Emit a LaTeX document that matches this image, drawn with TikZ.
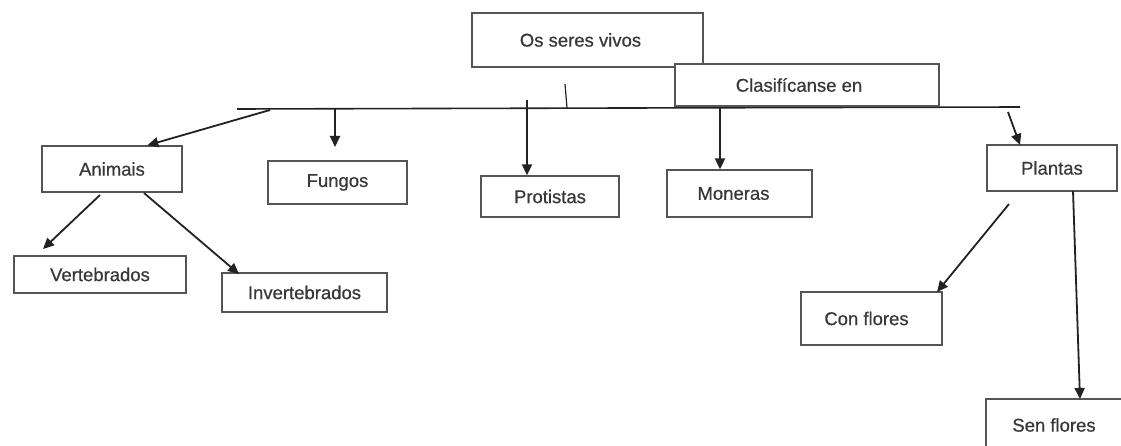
\documentclass[tikz,border=0pt]{standalone}
\usepackage{fontspec}
\setmainfont{Liberation Sans}
\newfontfamily\medfont[FakeBold=0.5]{Liberation Sans}
\usetikzlibrary{arrows.meta,calc}
\definecolor{ink}{HTML}{222222}
\definecolor{boxline}{HTML}{555555}
\definecolor{txt}{HTML}{383838}
\begin{document}
\begin{tikzpicture}[x=1pt,y=-1pt,
  box/.style={draw=boxline,line width=1.3pt,fill=white,inner sep=0pt,
    font=\medfont\fontsize{18.5}{20}\selectfont,text=txt},
  arr/.style={draw=ink,line width=1.8pt,-{Triangle[length=11pt,width=10pt]}},
  ln/.style={draw=ink,line width=1.6pt}]
\useasboundingbox[fill=white] (0,0) rectangle (1121,446);

% main horizontal line
\coordinate (hl) at (237,109);
\coordinate (hr) at (1020,107);
\draw[ln] (hl) -- (hr);

% boxes
\node[box,minimum width=231pt,minimum height=54pt] (os) at (587.5,40) {Os seres vivos\hspace*{14pt}};
\node[box,minimum width=264pt,minimum height=42pt] (cla) at (807,85) {Clasifícanse en\hspace*{16pt}};
\node[box,minimum width=140pt,minimum height=46pt] (ani) at (112,169) {Animais};
\node[box,minimum width=139pt,minimum height=43pt] (fun) at (337.5,182.5) {Fungos};
\node[box,minimum width=138pt,minimum height=41pt] (pro) at (550,196.5) {Protistas};
\node[box,minimum width=145pt,minimum height=47pt] (mon) at (739.5,193.5) {Moneras\hspace*{12pt}};
\node[box,minimum width=130pt,minimum height=46pt] (pla) at (1052,168) {Plantas};
\node[box,minimum width=172pt,minimum height=37pt] (ver) at (100,274.5) {Vertebrados};
\node[box,minimum width=165pt,minimum height=39pt] (inv) at (304.5,292.5) {Invertebrados};
\node[box,minimum width=141pt,minimum height=53pt] (con) at (871.5,318.5) {Con flores\hspace*{10pt}};
\node[box,minimum width=140pt,minimum height=52pt] (sen) at (1056,425) {Sen flores\hspace*{4pt}};

% tick from title
\coordinate (t1) at (565,84);
\coordinate (t2) at (567,108);
\draw[ln,line width=1.2pt] (t1) -- (t2);

% arrows from the line
\coordinate (sA) at (270,110);
\coordinate (eA) at ($(ani.north west)!0.75!(ani.north east)$);
\draw[arr] (sA) -- (eA);

\coordinate (sF) at (335,109);
\coordinate (eF) at (335,147);
\draw[arr] (sF) -- (eF);

\coordinate (sP) at (527,100);
\draw[arr] (sP) -- (pro.north -| sP);

\coordinate (sM) at (720,107);
\draw[arr] (sM) -- (mon.north -| sM);

\coordinate (sPl) at (1008,112);
\coordinate (ePl) at (1020,145);
\draw[arr] (sPl) -- (ePl);

% Animais children
\coordinate (sV) at (100,195);
\coordinate (eV) at (43,249);
\draw[arr] (sV) -- (eV);
\coordinate (sI) at (144,193);
\coordinate (eI) at (239,274);
\draw[arr] (sI) -- (eI);

% Plantas children
\coordinate (sC) at (1009,204);
\coordinate (eC) at (937,292);
\draw[arr] (sC) -- (eC);
\coordinate (sS) at (1073,191);
\coordinate (eS) at (1080,399);
\draw[arr] (sS) -- (eS);
\end{tikzpicture}
\end{document}
